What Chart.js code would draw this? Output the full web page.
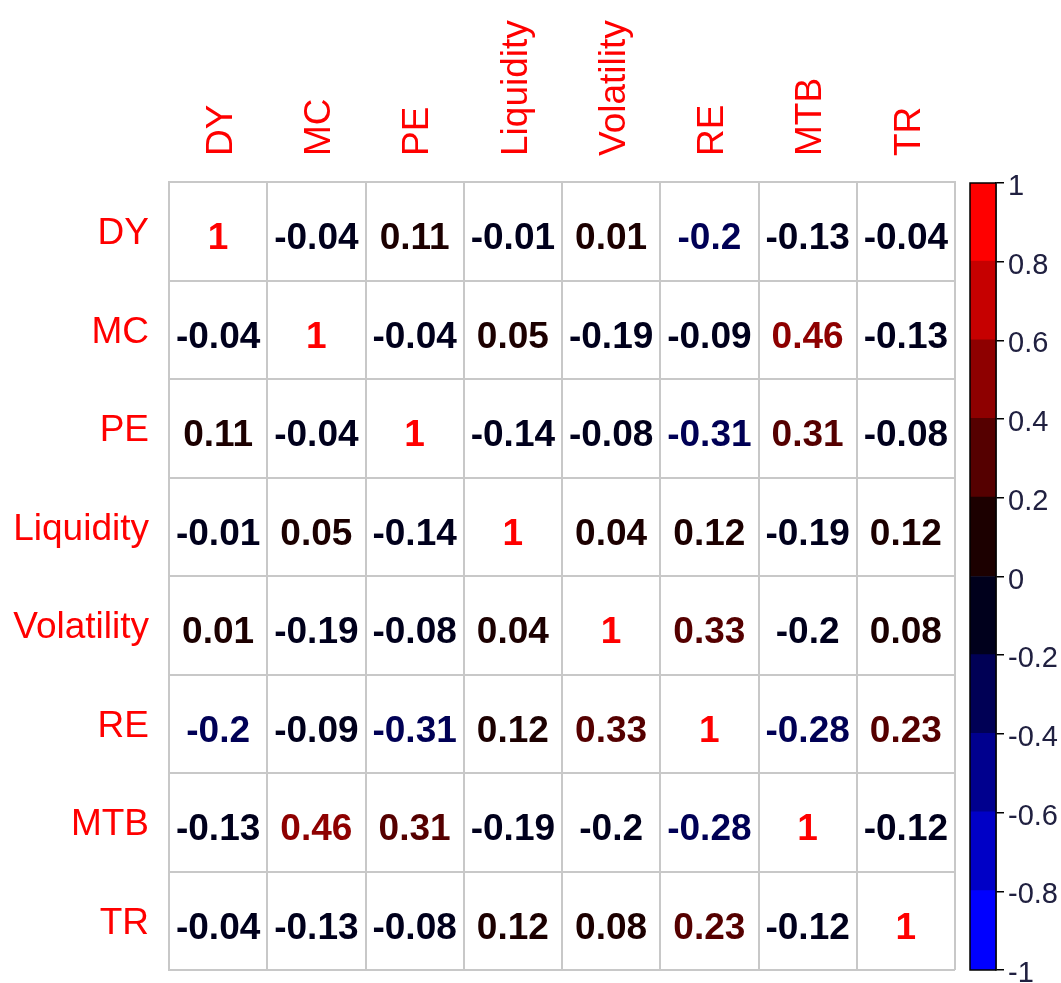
<!DOCTYPE html>
<html>
<head>
<meta charset="utf-8">
<script src="https://cdn.jsdelivr.net/npm/chart.js@4"></script>
<style>
body{margin:0;background:#fff;overflow:hidden;}
#wrap{position:relative;width:1061px;height:983px;overflow:hidden;}
#matrix{position:absolute;left:0;top:0;}
#bar{position:absolute;left:960px;top:0;}
</style>
</head>
<body>
<div id="wrap">
<canvas id="matrix" width="960" height="983"></canvas>
<canvas id="bar" width="101" height="1000"></canvas>
</div>
<script>
// variables of the correlation matrix
const vars = ['DY', 'MC', 'PE', 'Liquidity', 'Volatility', 'RE', 'MTB', 'TR'];

// correlation values, row by row (the -0.2 cells are read as just below / above -0.2 from their colour)
const rowDY         = [1, -0.04, 0.11, -0.01, 0.01, -0.201, -0.13, -0.04];
const rowMC         = [-0.04, 1, -0.04, 0.05, -0.19, -0.09, 0.46, -0.13];
const rowPE         = [0.11, -0.04, 1, -0.14, -0.08, -0.31, 0.31, -0.08];
const rowLiquidity  = [-0.01, 0.05, -0.14, 1, 0.04, 0.12, -0.19, 0.12];
const rowVolatility = [0.01, -0.19, -0.08, 0.04, 1, 0.33, -0.199, 0.08];
const rowRE         = [-0.201, -0.09, -0.31, 0.12, 0.33, 1, -0.28, 0.23];
const rowMTB        = [-0.13, 0.46, 0.31, -0.19, -0.199, -0.28, 1, -0.12];
const rowTR         = [-0.04, -0.13, -0.08, 0.12, 0.08, 0.23, -0.12, 1];
const corr = [rowDY, rowMC, rowPE, rowLiquidity, rowVolatility, rowRE, rowMTB, rowTR];

// colour key: breaks from -1 to 1 and one colour per band (blue -> black -> red)
const legendBreaks = [-1, -0.8, -0.6, -0.4, -0.2, 0, 0.2, 0.4, 0.6, 0.8, 1];
const palette = ['#0000FF', '#0000C6', '#00008E', '#000055', '#00001C',
                 '#1C0000', '#550000', '#8E0000', '#C60000', '#FF0000'];

Chart.defaults.font.family = "'Liberation Sans', Arial, sans-serif";

function colourFor(v){
  let k = Math.floor((v + 1) / 0.2 + 1e-9);
  if (k < 0) k = 0;
  if (k > palette.length - 1) k = palette.length - 1;
  return palette[k];
}

const points = [];
corr.forEach((row, i) => {
  row.forEach((v, j) => {
    points.push({x: vars[j], y: vars[i], v: v});
  });
});

// writes the coefficient in each cell
const cellText = {
  id: 'cellText',
  afterDatasetsDraw(chart){
    const ctx = chart.ctx;
    const meta = chart.getDatasetMeta(0);
    ctx.save();
    ctx.font = "bold 37px 'Liberation Sans', Arial, sans-serif";
    ctx.textAlign = 'center';
    ctx.textBaseline = 'alphabetic';
    meta.data.forEach((el, idx) => {
      const p = chart.data.datasets[0].data[idx];
      ctx.fillStyle = colourFor(p.v);
      ctx.fillText(String(Number(p.v.toFixed(2))), el.x, el.y + 18);
    });
    ctx.restore();
  }
};

new Chart(document.getElementById('matrix'), {
  type: 'scatter',
  data: {
    datasets: [{
      data: points,
      pointRadius: 0,
      pointHoverRadius: 0
    }]
  },
  options: {
    responsive: false,
    animation: false,
    layout: {padding: {left: 0, top: 0, right: 5, bottom: 13}},
    plugins: {legend: {display: false}, tooltip: {enabled: false}},
    scales: {
      x: {
        type: 'category',
        labels: vars,
        position: 'top',
        offset: true,
        grid: {offset: true, color: '#c8c8c8', lineWidth: 2, drawTicks: false},
        border: {color: '#c8c8c8', width: 2},
        ticks: {
          color: '#FF0000',
          font: {size: 37},
          minRotation: 90,
          maxRotation: 90,
          autoSkip: false,
          padding: 26,
          labelOffset: 48
        },
        afterFit: s => { s.height = 182; s.paddingLeft = 0; s.paddingRight = 0; }
      },
      y: {
        type: 'category',
        labels: vars,
        offset: true,
        grid: {offset: true, color: '#c8c8c8', lineWidth: 2, drawTicks: false},
        border: {color: '#c8c8c8', width: 2},
        ticks: {
          color: '#FF0000',
          font: {size: 37},
          autoSkip: false,
          padding: 20,
          labelOffset: 3
        },
        afterFit: s => { s.width = 169; s.paddingTop = 0; s.paddingBottom = 0; }
      }
    }
  },
  plugins: [cellText]
});

// black frame round the colour key
const frame = {
  id: 'frame',
  afterDraw(chart){
    const a = chart.chartArea;
    const ctx = chart.ctx;
    ctx.save();
    ctx.strokeStyle = '#000';
    ctx.lineWidth = 1.5;
    ctx.strokeRect(a.left, a.top, a.right - a.left, a.bottom - a.top);
    ctx.restore();
  }
};

const bands = palette.map((c, k) => ({
  data: [[legendBreaks[k], legendBreaks[k + 1]]],
  backgroundColor: c,
  borderWidth: 0,
  inflateAmount: 1,
  grouped: false,
  barPercentage: 1,
  categoryPercentage: 1
}));

new Chart(document.getElementById('bar'), {
  type: 'bar',
  data: {labels: [''], datasets: bands},
  options: {
    responsive: false,
    animation: false,
    layout: {padding: {left: 10, top: 183, right: 0, bottom: 30}},
    plugins: {legend: {display: false}, tooltip: {enabled: false}},
    scales: {
      x: {display: false},
      y: {
        position: 'right',
        min: -1,
        max: 1,
        grid: {drawOnChartArea: false, color: '#000', tickLength: 8, lineWidth: 1.5},
        border: {color: '#000', width: 1.5},
        ticks: {
          stepSize: 0.2,
          color: '#202040',
          font: {size: 29},
          padding: 4,
          labelOffset: 4,
          callback: v => String(Math.round(v * 10) / 10)
        },
        afterFit: s => { s.width = 65; }
      }
    }
  },
  plugins: [frame]
});
</script>
</body>
</html>
